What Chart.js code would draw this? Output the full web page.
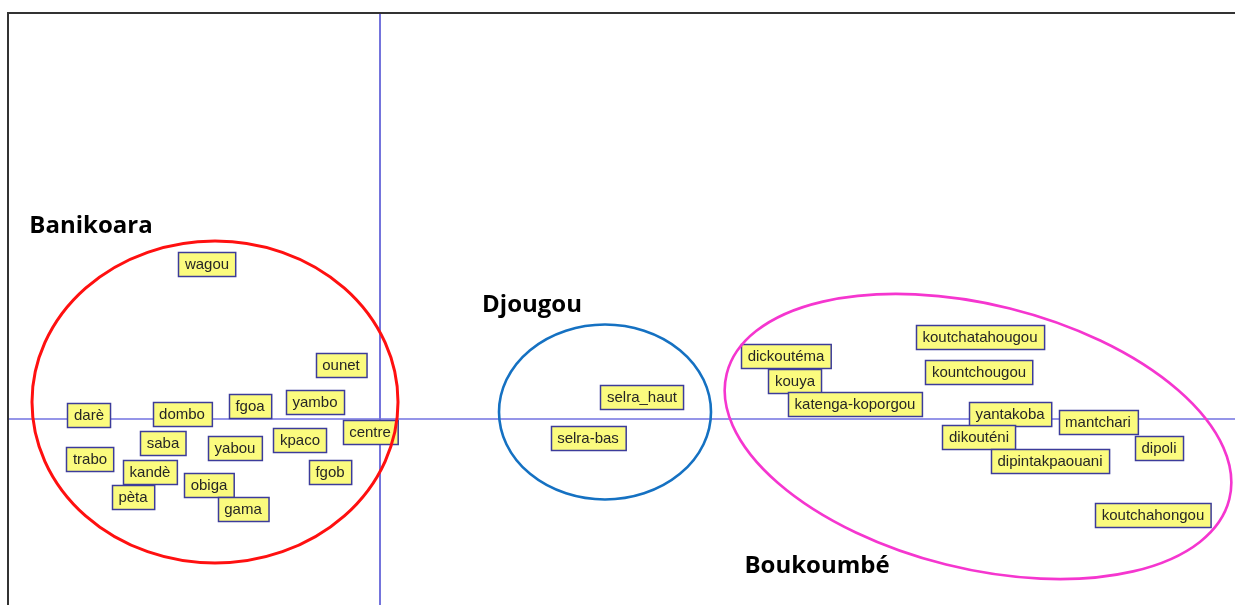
<!DOCTYPE html>
<html>
<head>
<meta charset="utf-8">
<script src="https://cdn.jsdelivr.net/npm/chart.js@4.4.1/dist/chart.umd.min.js"></script>
<style>
  html, body { margin: 0; padding: 0; background: #fff; }
  #wrap { position: relative; width: 1235px; height: 605px; }
</style>
</head>
<body>
<div id="wrap"><canvas id="plan"></canvas></div>
<script>
const banikoaraNoms = ['wagou','ounet','darè','dombo','fgoa','yambo','centre','saba','yabou','kpaco','trabo','kandè','fgob','obiga','pèta','gama'];
const banikoaraX = [-1.73,-0.39,-2.91,-1.98,-1.30,-0.65,-0.10,-2.17,-1.45,-0.80,-2.90,-2.30,-0.50,-1.71,-2.47,-1.37];
const banikoaraY = [1.55,0.54,0.04,0.05,0.13,0.17,-0.13,-0.24,-0.29,-0.21,-0.40,-0.53,-0.53,-0.66,-0.78,-0.90];

const djougouNoms = ['selra_haut','selra-bas'];
const djougouX = [2.62, 2.08];
const djougouY = [0.22, -0.19];

const boukoumbeNoms = ['koutchatahougou','dickoutéma','kountchougou','kouya','katenga-koporgou','yantakoba','mantchari','dikouténi','dipoli','dipintakpaouani','koutchahongou'];
const boukoumbeX = [6.00,4.06,5.99,4.15,4.75,6.30,7.18,5.99,7.79,6.70,7.73];
const boukoumbeY = [0.82,0.63,0.47,0.38,0.15,0.05,-0.03,-0.18,-0.29,-0.42,-0.96];

// Groupes : nom, centre, demi-axes, rotation (degrés)
const groupes = ['Banikoara','Djougou','Boukoumbé'];
const groupeCouleurs = ['#ff1010','#1571c2','#f536cf'];
const ellipseCX = [-1.65, 2.25, 5.98];
const ellipseCY = [0.17, 0.07, -0.175];
const ellipseRX = [1.83, 1.06, 2.59];
const ellipseRY = [1.61, 0.875, 1.32];
const ellipseRot = [0, 0, 14];
const titreX = [-2.89, 1.52, 4.37];
const titreY = [1.93, 1.14, -1.47];

function points(xs, ys, noms) {
  return xs.map((x, i) => ({ x: x, y: ys[i], nom: noms[i] }));
}

const axesPlugin = {
  id: 'axes',
  beforeDatasetsDraw(chart) {
    const { ctx, chartArea, scales } = chart;
    const x0 = Math.round(scales.x.getPixelForValue(0));
    const y0 = scales.y.getPixelForValue(0);
    ctx.save();
    ctx.strokeStyle = '#7474dc';
    ctx.lineWidth = 2;
    ctx.beginPath();
    ctx.moveTo(x0, chartArea.top);
    ctx.lineTo(x0, chartArea.bottom);
    ctx.stroke();
    ctx.strokeStyle = '#7272e0';
    ctx.lineWidth = 1.4;
    ctx.beginPath();
    ctx.moveTo(chartArea.left, y0);
    ctx.lineTo(chartArea.right, y0);
    ctx.stroke();
    // cadre
    ctx.strokeStyle = '#333';
    ctx.lineWidth = 2;
    ctx.beginPath();
    ctx.moveTo(chartArea.left - 1, chartArea.bottom);
    ctx.lineTo(chartArea.left - 1, chartArea.top - 1);
    ctx.lineTo(chartArea.right, chartArea.top - 1);
    ctx.stroke();
    ctx.restore();
  }
};

const etiquettesPlugin = {
  id: 'etiquettes',
  afterDatasetsDraw(chart) {
    const { ctx, scales } = chart;
    ctx.save();
    ctx.font = '15px "Liberation Sans", Arial, sans-serif';
    ctx.textAlign = 'center';
    ctx.textBaseline = 'middle';
    chart.data.datasets.forEach((ds, di) => {
      const meta = chart.getDatasetMeta(di);
      meta.data.forEach((pt, i) => {
        const nom = ds.data[i].nom;
        const w = ctx.measureText(nom).width + 13;
        const h = 24;
        const x = Math.round(pt.x - w / 2) + 0.5;
        const y = Math.round(pt.y - h / 2) + 0.5;
        ctx.fillStyle = '#fbfb7e';
        ctx.fillRect(x, y, w, h);
        ctx.strokeStyle = '#3c3c9a';
        ctx.lineWidth = 1.5;
        ctx.strokeRect(x, y, w, h);
        ctx.fillStyle = '#262626';
        ctx.fillText(nom, pt.x, pt.y + 1);
      });
    });

    // ellipses des groupes
    groupes.forEach((g, i) => {
      const cx = scales.x.getPixelForValue(ellipseCX[i]);
      const cy = scales.y.getPixelForValue(ellipseCY[i]);
      const rx = scales.x.getPixelForValue(ellipseRX[i]) - scales.x.getPixelForValue(0);
      const ry = scales.y.getPixelForValue(0) - scales.y.getPixelForValue(ellipseRY[i]);
      ctx.strokeStyle = groupeCouleurs[i];
      ctx.lineWidth = i === 0 ? 3 : 2.6;
      ctx.beginPath();
      ctx.ellipse(cx, cy, rx, ry, ellipseRot[i] * Math.PI / 180, 0, 2 * Math.PI);
      ctx.stroke();

      ctx.fillStyle = '#000';
      ctx.font = 'bold 24px "Open Sans", "Liberation Sans", Arial, sans-serif';
      ctx.fillText(g, scales.x.getPixelForValue(titreX[i]), scales.y.getPixelForValue(titreY[i]));
    });
    ctx.restore();
  }
};

new Chart(document.getElementById('plan'), {
  type: 'scatter',
  data: {
    datasets: [
      { label: 'Banikoara', data: points(banikoaraX, banikoaraY, banikoaraNoms) },
      { label: 'Djougou', data: points(djougouX, djougouY, djougouNoms) },
      { label: 'Boukoumbé', data: points(boukoumbeX, boukoumbeY, boukoumbeNoms) }
    ]
  },
  options: {
    responsive: true,
    maintainAspectRatio: false,
    animation: false,
    layout: { padding: { left: 9, top: 14, right: 0, bottom: 0 } },
    elements: { point: { radius: 0, hoverRadius: 0 } },
    plugins: { legend: { display: false }, tooltip: { enabled: false } },
    scales: {
      x: { type: 'linear', display: false, min: -3.71, max: 8.55 },
      y: { type: 'linear', display: false, min: -1.86, max: 4.05 }
    }
  },
  plugins: [axesPlugin, etiquettesPlugin]
});
</script>
</body>
</html>
